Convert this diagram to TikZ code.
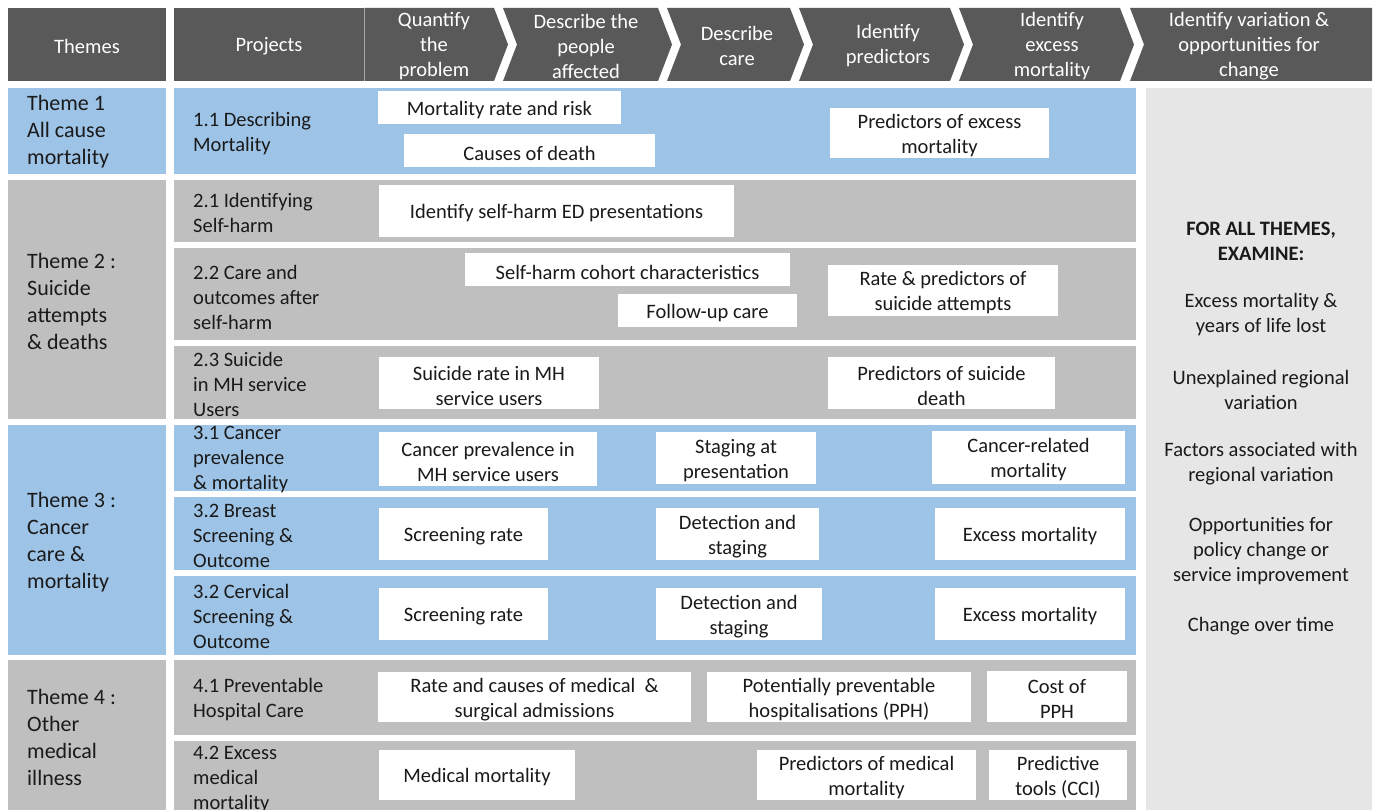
\documentclass[tikz,border=0pt]{standalone}
\usepackage{fontspec}
\setmainfont{Carlito}
\definecolor{hdrgray}{HTML}{595959}
\definecolor{themeblue}{HTML}{9DC3E6}
\definecolor{themegray}{HTML}{BFBFBF}
\definecolor{panelgray}{HTML}{E7E6E6}
\definecolor{txt}{HTML}{1A1A1A}
\newcommand{\wbx}[6]{\fill[white] (#2,#3) rectangle (#4,#5);
  \node[wbox] (#1) at ({(#2+#4)/2},{(#3+#5)/2+2.5}) {#6};}
\newcommand{\chev}[3]{% name, left, right
  \fill[hdrgray] (#2,8) -- (#3,8) -- (#3+14,44.5) -- (#3,81) -- (#2,81) -- (#2+14,44.5) -- cycle;}
\begin{document}
\begin{tikzpicture}[x=1pt,y=-1pt,
  every node/.style={font=\fontsize{20.5}{25}\selectfont, text=txt, inner sep=0pt},
  hdrtxt/.style={text=white, align=center},
  wbox/.style={align=center},
  plabel/.style={anchor=west, align=left},
  tlabel/.style={anchor=west, align=left, font=\fontsize{22}{27}\selectfont},
  ptxt/.style={align=center},
]
\useasboundingbox (0,0) rectangle (1378,810);
\clip (0,0) rectangle (1378,810);
\fill[white] (0,0) rectangle (1378,810);

% ---------- header ----------
\fill[hdrgray] (8,8) rectangle (166,81);
\fill[hdrgray] (174,8) rectangle (364,81);
\fill[hdrgray] (364,8) -- (494,8) -- (508,44.5) -- (494,81) -- (364,81) -- cycle;
\chev{c2}{503}{658}
\chev{c3}{667}{790}
\chev{c4}{799}{950}
\chev{c5}{959}{1120}
\fill[hdrgray] (1130,8) -- (1372,8) -- (1372,81) -- (1130,81) -- (1144,44.5) -- cycle;
\draw[gray!70, line width=1] (364,8) -- (364,81);

\node[hdrtxt] (hThemes) at (87,46) {Themes};
\node[hdrtxt] (hProjects) at (269,46) {Projects};
\node[hdrtxt] (hQuant) at (434,46.5) {Quantify\\the\\problem};
\node[hdrtxt] (hPeople) at (586,46) {Describe the\\people\\affected};
\node[hdrtxt] (hCare) at (737,46) {Describe\\care};
\node[hdrtxt] (hPred) at (888,46) {Identify\\predictors};
\node[hdrtxt] (hExcess) at (1052,46.5) {Identify\\excess\\mortality};
\node[hdrtxt] (hVar) at (1249,46) {Identify variation \&\\opportunities for\\change};

% ---------- theme column ----------
\fill[themeblue] (8,88) rectangle (166,174);
\fill[themegray] (8,180) rectangle (166,419);
\fill[themeblue] (8,425) rectangle (166,655);
\fill[themegray] (8,660) rectangle (166,815);

\node[tlabel] (t1) at (27,132) {Theme 1\\All cause\\mortality};
\node[tlabel] (t2) at (27,301) {Theme 2 :\\Suicide\\attempts\\\& deaths};
\node[tlabel] (t3) at (27,542) {Theme 3 :\\Cancer\\care \&\\mortality};
\node[tlabel] (t4) at (27,737) {Theme 4 :\\Other\\medical\\illness};

% ---------- project rows ----------
\fill[themeblue] (174,88) rectangle (1136,174);
\fill[themegray] (174,180) rectangle (1136,242);
\fill[themegray] (174,248) rectangle (1136,340);
\fill[themegray] (174,346) rectangle (1136,419);
\fill[themeblue] (174,425) rectangle (1136,491);
\fill[themeblue] (174,497) rectangle (1136,570);
\fill[themeblue] (174,576) rectangle (1136,655);
\fill[themegray] (174,660) rectangle (1136,735);
\fill[themegray] (174,741) rectangle (1136,815);

\node[plabel] (p11) at (193,133.5) {1.1 Describing\\Mortality};
\node[plabel] (p21) at (193,213) {2.1 Identifying\\Self-harm};
\node[plabel] (p22) at (193,297) {2.2 Care and\\outcomes after\\self-harm};
\node[plabel] (p23) at (193,384) {2.3 Suicide\\in MH service\\Users};
\node[plabel] (p31) at (193,459) {3.1 Cancer\\prevalence\\\& mortality};
\node[plabel] (p32b) at (193,536) {3.2 Breast\\Screening \&\\Outcome};
\node[plabel] (p32c) at (193,616) {3.2 Cervical\\Screening \&\\Outcome};
\node[plabel] (p41) at (193,699.5) {4.1 Preventable\\Hospital Care};
\node[plabel] (p42) at (193,779) {4.2 Excess\\medical\\mortality};

% ---------- right panel ----------
\fill[panelgray] (1146,88) rectangle (1372,815);
\node[ptxt, font=\fontsize{20.5}{25}\selectfont\bfseries] (r0) at (1261,241) {FOR ALL THEMES,\\EXAMINE:};
\node[ptxt] (r1) at (1261,315) {Excess mortality \&\\years of life lost};
\node[ptxt] (r2) at (1261,390) {Unexplained regional\\variation};
\node[ptxt] (r3) at (1261,464) {Factors associated with\\regional variation};
\node[ptxt] (r4) at (1261,551) {Opportunities for\\policy change or\\service improvement};
\node[ptxt] (r5) at (1261,626) {Change over time};

% ---------- white boxes ----------
\wbx{b11a}{378}{91}{621}{124}{Mortality rate and risk}
\wbx{b11b}{404}{134}{655}{167}{Causes of death}
\wbx{b11c}{830}{108}{1049}{158}{Predictors of excess\\mortality}
\wbx{b21a}{379}{185}{734}{237}{Identify self-harm ED presentations}
\wbx{b22a}{465}{253}{790}{286}{Self-harm cohort characteristics}
\wbx{b22b}{618}{294}{797}{327}{Follow-up care}
\wbx{b22c}{828}{265}{1058}{316}{Rate \& predictors of\\suicide attempts}
\wbx{b23a}{379}{357}{599}{409}{Suicide rate in MH\\service users}
\wbx{b23b}{828}{357}{1055}{409}{Predictors of suicide\\death}
\wbx{b31a}{379}{432}{597}{486}{Cancer prevalence in\\MH service users}
\wbx{b31b}{656}{432}{816}{484}{Staging at\\presentation}
\wbx{b31c}{932}{431}{1125}{484}{Cancer-related\\mortality}
\wbx{b32a}{379}{508}{548}{560}{Screening rate}
\wbx{b32b}{656}{508}{819}{560}{Detection and\\staging}
\wbx{b32c}{935}{508}{1125}{560}{Excess mortality}
\wbx{b33a}{379}{588}{548}{640}{Screening rate}
\wbx{b33b}{656}{588}{822}{640}{Detection and\\staging}
\wbx{b33c}{935}{588}{1125}{640}{Excess mortality}
\wbx{b41a}{378}{672}{691}{722}{Rate and causes of medical ~\&\\surgical admissions}
\wbx{b41b}{707}{672}{971}{722}{Potentially preventable\\hospitalisations (PPH)}
\wbx{b41c}{987}{671}{1127}{722}{Cost of\\PPH}
\wbx{b42a}{379}{750}{575}{800}{Medical mortality}
\wbx{b42b}{757}{750}{976}{800}{Predictors of medical\\mortality}
\wbx{b42c}{989}{750}{1127}{800}{Predictive\\tools (CCI)}
\end{tikzpicture}
\end{document}
